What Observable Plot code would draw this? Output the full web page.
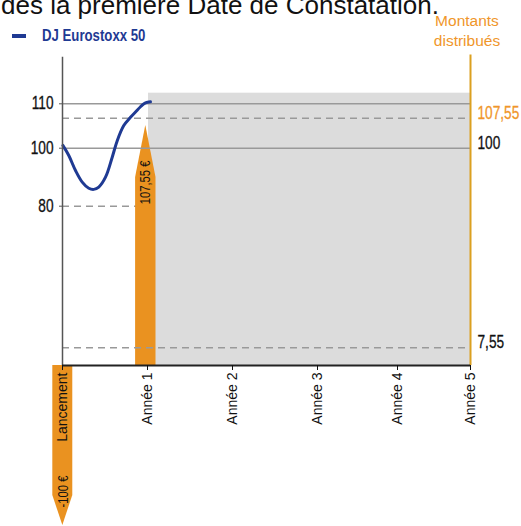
<!DOCTYPE html>
<html><head><meta charset="utf-8">
<script src="https://cdn.jsdelivr.net/npm/d3@7"></script>
<script src="https://cdn.jsdelivr.net/npm/@observablehq/plot@0.6"></script>
<style>
body{margin:0;background:#fff;overflow:hidden}
#wrap{position:relative;width:521px;height:526px;overflow:hidden}
#title{position:absolute;left:1px;top:-8px;font:26px/26px "Liberation Sans",Arial,sans-serif;color:#111;white-space:nowrap}
#legdash{position:absolute;left:12px;top:34px;width:14px;height:4px;background:#1f3a93}
#legtext{position:absolute;left:42px;top:27px;font:bold 16.5px/16px "Liberation Sans",Arial,sans-serif;color:#1f3a93;white-space:nowrap;transform:scaleX(0.8);transform-origin:0 0}
#montants{position:absolute;left:417px;top:11px;width:100px;text-align:center;font:15.5px/20px "Liberation Sans",Arial,sans-serif;color:#f0962a}
#chart{position:absolute;left:0;top:0}
</style></head>
<body>
<div id="wrap">
<div id="chart"></div>
<div id="title">dès la première Date de Constatation.</div>
<div id="legdash"></div>
<div id="legtext">DJ Eurostoxx 50</div>
<div id="montants">Montants<br>distribués</div>
</div>
<script>
// ---- data ----
const years = [0, 1, 2, 3, 4, 5];
const yearLabels = ["Lancement", "Année 1", "Année 2", "Année 3", "Année 4", "Année 5"];
const curveT = [0.004, 0.074, 0.153, 0.232, 0.309, 0.368, 0.427, 0.506, 0.585, 0.644, 0.721, 0.80, 0.859, 0.918, 0.976, 1.035];
const curveV = [100.7, 97.5, 92.3, 88.3, 86.2, 85.8, 86.6, 90.0, 96.9, 101.9, 105.7, 107.7, 108.6, 109.5, 110.2, 110.45];
const leftTicks = [80, 100, 110];
const solidLevels = [100, 110];
const dashedLevels = [7.55, 107.55];
const level80 = [80];
const coupon = 107.55;
const couponText = "107,55 €";
const investText = "-100 €";
const rightValuesOrange = [107.55];
const rightLabelsOrange = ["107,55"];
const rightValuesBlack = [100, 7.55];
const rightLabelsBlack = ["100", "7,55"];
const greyTop = 112.4;

// derived tables
const curve = curveT.map((t, i) => ({t, v: curveV[i]}));
const upArrow = [
  {y: 0, x1: 0.86, x2: 1.10},
  {y: 89.9, x1: 0.86, x2: 1.10},
  {y: 105.7, x1: 0.98, x2: 0.98}
];
const downArrow = [
  {y: 0, x1: -0.114, x2: 0.121},
  {y: -81.25, x1: -0.114, x2: 0.121},
  {y: -100, x1: 0.004, x2: 0.004}
];

const orange = "#ea9220";
const gridCol = "#999999";

const chart = Plot.plot({
  width: 521,
  height: 526,
  marginLeft: 62,
  marginRight: 51,
  marginTop: 55,
  marginBottom: 161,
  style: {fontFamily: "'Liberation Sans',Arial,sans-serif", background: "transparent", color: "#111"},
  x: {type: "linear", domain: [0, 1, 2, 3, 4, 5], range: [62, 147, 232, 317, 397, 470], axis: null},
  y: {type: "linear", domain: [-100, 0, 7.55, 80, 100, 107.55, 110, 121], range: [525, 365, 347.3, 205.7, 147.7, 117.7, 103.3, 54.6], axis: null},
  marks: [
    Plot.rect([{x1: 1.012, x2: 5, y1: 0, y2: greyTop}], {x1: "x1", x2: "x2", y1: "y1", y2: "y2", fill: "#dcdcdc"}),
    Plot.ruleY(level80, {x1: 0, x2: 1, stroke: gridCol, strokeWidth: 1.6, strokeDasharray: "7,5"}),
    Plot.areaX(upArrow, {y: "y", x1: "x1", x2: "x2", fill: orange, curve: "linear"}),
    Plot.areaX(downArrow, {y: "y", x1: "x1", x2: "x2", fill: orange, curve: "linear"}),
    Plot.ruleY(solidLevels, {x1: 0, x2: 5, stroke: gridCol, strokeWidth: 1.6}),
    Plot.ruleY(dashedLevels, {x1: 0, x2: 5, stroke: gridCol, strokeWidth: 1.6, strokeDasharray: "7,5"}),
    Plot.line(curve, {x: "t", y: "v", stroke: "#1f3a93", strokeWidth: 3, curve: "catmull-rom"}),
    Plot.ruleX([0], {y1: 0, y2: 120.5, stroke: "#555", strokeWidth: 1.5}),
    Plot.ruleX([5], {y1: 0, y2: 121, stroke: "#dba020", strokeWidth: 2}),
    Plot.ruleY([0], {x1: 0, x2: 5, stroke: "#222", strokeWidth: 2}),
    Plot.axisY({ticks: leftTicks, tickSize: 3, tickPadding: 6, fontSize: 17.5, label: null, stroke: "#555"}),
    Plot.axisX({ticks: years, tickFormat: i => yearLabels[i], tickRotate: -90, tickSize: 5, tickPadding: 2, fontSize: 14, label: null}),
    Plot.text([coupon], {x: 0.98, y: 88.2, text: () => couponText, rotate: -90, fontSize: 14, fill: "#111"}),
    Plot.text([-100], {x: 0.01, y: -78.75, text: () => investText, rotate: -90, fontSize: 14, fill: "#111"}),
    Plot.text(rightValuesOrange, {x: 5, y: d => d, text: (d, i) => rightLabelsOrange[i], dx: 7, dy: -5, textAnchor: "start", fontSize: 17.5, fill: "#f0962a"}),
    Plot.text(rightValuesBlack, {x: 5, y: d => d, text: (d, i) => rightLabelsBlack[i], dx: 7, dy: -5, textAnchor: "start", fontSize: 17.5, fill: "#111"})
  ]
});
document.getElementById("chart").appendChild(chart);

// emulate the condensed face of the original numbers
chart.querySelectorAll("text").forEach(t => {
  const s = t.textContent;
  if (/^[-\d,. €]+$/.test(s)) {
    const f = s.includes("€") ? 0.8 : 0.78;
    const w = t.getComputedTextLength();
    t.setAttribute("textLength", (w * f).toFixed(2));
    t.setAttribute("lengthAdjust", "spacingAndGlyphs");
    if (!s.includes("€")) {
      t.style.stroke = getComputedStyle(t).fill;
      t.style.strokeWidth = "0.3px";
    }
  }
});
</script>
</body></html>
